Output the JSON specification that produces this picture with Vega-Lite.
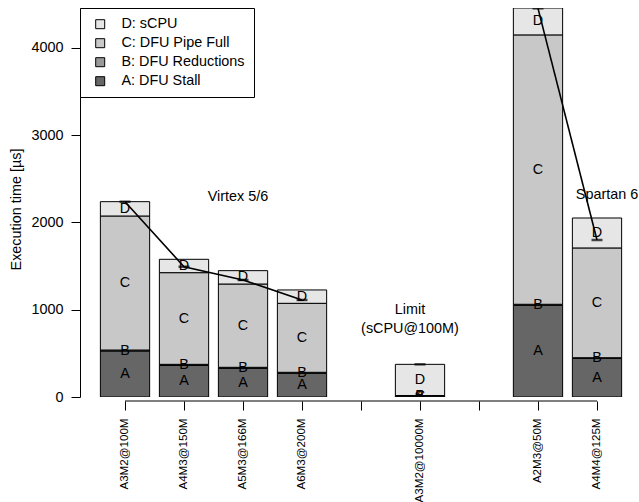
{
  "$schema": "https://vega.github.io/schema/vega-lite/v6.json",
  "width": 550,
  "height": 389,
  "autosize": {"type": "none"},
  "padding": {"left": 80, "top": 8, "right": 9, "bottom": 105},
  "config": {
    "view": {"stroke": null},
    "font": "Liberation Sans",
    "axis": {"labelFont": "Liberation Sans", "titleFont": "Liberation Sans", "labelColor": "black", "titleColor": "black", "tickColor": "black", "domainColor": "black", "grid": false},
    "legend": {"labelFont": "Liberation Sans"}
  },
  "datasets": {
    "bars": [
      {"bar": "A3M2@100M", "seg": "A", "label": "A: DFU Stall", "value": 527},
      {"bar": "A3M2@100M", "seg": "B", "label": "B: DFU Reductions", "value": 11},
      {"bar": "A3M2@100M", "seg": "C", "label": "C: DFU Pipe Full", "value": 1535},
      {"bar": "A3M2@100M", "seg": "D", "label": "D: sCPU", "value": 164},
      {"bar": "A4M3@150M", "seg": "A", "label": "A: DFU Stall", "value": 361},
      {"bar": "A4M3@150M", "seg": "B", "label": "B: DFU Reductions", "value": 13},
      {"bar": "A4M3@150M", "seg": "C", "label": "C: DFU Pipe Full", "value": 1050},
      {"bar": "A4M3@150M", "seg": "D", "label": "D: sCPU", "value": 153},
      {"bar": "A5M3@166M", "seg": "A", "label": "A: DFU Stall", "value": 328},
      {"bar": "A5M3@166M", "seg": "B", "label": "B: DFU Reductions", "value": 12},
      {"bar": "A5M3@166M", "seg": "C", "label": "C: DFU Pipe Full", "value": 954},
      {"bar": "A5M3@166M", "seg": "D", "label": "D: sCPU", "value": 153},
      {"bar": "A6M3@200M", "seg": "A", "label": "A: DFU Stall", "value": 271},
      {"bar": "A6M3@200M", "seg": "B", "label": "B: DFU Reductions", "value": 12},
      {"bar": "A6M3@200M", "seg": "C", "label": "C: DFU Pipe Full", "value": 790},
      {"bar": "A6M3@200M", "seg": "D", "label": "D: sCPU", "value": 153},
      {"bar": "A3M2@10000M", "seg": "A", "label": "A: DFU Stall", "value": 12},
      {"bar": "A3M2@10000M", "seg": "B", "label": "B: DFU Reductions", "value": 3},
      {"bar": "A3M2@10000M", "seg": "C", "label": "C: DFU Pipe Full", "value": 2},
      {"bar": "A3M2@10000M", "seg": "D", "label": "D: sCPU", "value": 357},
      {"bar": "A2M3@50M", "seg": "A", "label": "A: DFU Stall", "value": 1050},
      {"bar": "A2M3@50M", "seg": "B", "label": "B: DFU Reductions", "value": 12},
      {"bar": "A2M3@50M", "seg": "C", "label": "C: DFU Pipe Full", "value": 3085},
      {"bar": "A2M3@50M", "seg": "D", "label": "D: sCPU", "value": 308},
      {"bar": "A4M4@125M", "seg": "A", "label": "A: DFU Stall", "value": 443},
      {"bar": "A4M4@125M", "seg": "B", "label": "B: DFU Reductions", "value": 7},
      {"bar": "A4M4@125M", "seg": "C", "label": "C: DFU Pipe Full", "value": 1257},
      {"bar": "A4M4@125M", "seg": "D", "label": "D: sCPU", "value": 343}
    ],
    "line": [
      {"bar": "A3M2@100M", "value": 2236, "grp": "Virtex"},
      {"bar": "A4M3@150M", "value": 1492, "grp": "Virtex"},
      {"bar": "A5M3@166M", "value": 1340, "grp": "Virtex"},
      {"bar": "A6M3@200M", "value": 1111, "grp": "Virtex"},
      {"bar": "A3M2@10000M", "value": 374, "grp": "Limit"},
      {"bar": "A2M3@50M", "value": 4451, "grp": "Spartan"},
      {"bar": "A4M4@125M", "value": 1798, "grp": "Spartan"}
    ],
    "noteV": [{"bar": "A5M3@166M", "value": 2291, "text": "Virtex 5/6"}],
    "noteL": [
      {"bar": "A3M2@10000M", "value": 997, "text": "Limit"},
      {"bar": "A3M2@10000M", "value": 779, "text": "(sCPU@100M)"}
    ],
    "noteS": [{"bar": "A4M4@125M", "value": 2314, "text": "Spartan 6"}],
    "baseline": [{"from": "A3M2@100M", "to": "A4M4@125M", "value": 0}]
  },
  "layer": [
    {
      "data": {"name": "bars"},
      "transform": [
        {"stack": "value", "groupby": ["bar"], "sort": [{"field": "seg", "order": "ascending"}], "as": ["v0", "v1"]}
      ],
      "mark": {"type": "bar", "stroke": "black", "strokeWidth": 1, "clip": true},
      "encoding": {
        "x": {
          "field": "bar", "type": "nominal", "title": null,
          "scale": {"domain": ["A3M2@100M", "A4M3@150M", "A5M3@166M", "A6M3@200M", "gapA", "A3M2@10000M", "gapB", "A2M3@50M", "A4M4@125M"], "paddingInner": 0.165, "paddingOuter": 0.2436, "align": 0.709},
          "axis": {"domain": false, "ticks": true, "tickSize": 9, "offset": 4, "labelAngle": -90, "labelFontSize": 11.6, "labelPadding": 8, "labelExpr": "indexof(['gapA','gapB'], datum.value) >= 0 ? '' : datum.value"}
        },
        "y": {
          "field": "v0", "type": "quantitative", "title": "Execution time [µs]",
          "scale": {"domain": [0, 4455], "nice": false},
          "axis": {"values": [0, 1000, 2000, 3000, 4000], "format": "d", "tickSize": 9, "labelPadding": 8, "labelFontSize": 14.4, "titleFontSize": 14.4, "titleFontWeight": "normal", "titleX": -59.5, "titleY": 201, "titleBaseline": "alphabetic", "titleAlign": "center"}
        },
        "y2": {"field": "v1"},
        "color": {
          "field": "label", "type": "nominal",
          "scale": {"domain": ["D: sCPU", "C: DFU Pipe Full", "B: DFU Reductions", "A: DFU Stall"], "range": ["#e6e6e6", "#c8c8c8", "#999999", "#666666"]},
          "legend": {"orient": "top-left", "offset": 0, "title": null, "strokeColor": "black", "fillColor": "white", "padding": 9, "symbolType": "square", "symbolSize": 81, "symbolStrokeColor": "black", "symbolStrokeWidth": 1, "labelFontSize": 14.4, "labelColor": "black", "rowPadding": 4, "labelOffset": 14, "symbolOffset": 4}
        }
      }
    },
    {
      "data": {"name": "bars"},
      "transform": [
        {"stack": "value", "groupby": ["bar"], "sort": [{"field": "seg", "order": "ascending"}], "as": ["v0", "v1"]},
        {"calculate": "(datum.v0 + datum.v1) / 2", "as": "mid"}
      ],
      "mark": {"type": "text", "fontSize": 14.4, "color": "black", "baseline": "middle", "clip": true},
      "encoding": {
        "x": {"field": "bar", "type": "nominal"},
        "y": {"field": "mid", "type": "quantitative"},
        "text": {"field": "seg"}
      }
    },
    {
      "data": {"name": "line"},
      "mark": {"type": "line", "color": "black", "strokeWidth": 1.6, "clip": true},
      "encoding": {
        "x": {"field": "bar", "type": "nominal"},
        "y": {"field": "value", "type": "quantitative"},
        "detail": {"field": "grp"}
      }
    },
    {
      "data": {"name": "line"},
      "mark": {"type": "tick", "color": "black", "size": 11, "thickness": 2.5, "clip": true},
      "encoding": {
        "x": {"field": "bar", "type": "nominal"},
        "y": {"field": "value", "type": "quantitative"}
      }
    },
    {
      "data": {"name": "baseline"},
      "mark": {"type": "rule", "color": "black", "strokeWidth": 1, "yOffset": 4},
      "encoding": {
        "x": {"field": "from", "type": "nominal"},
        "x2": {"field": "to"},
        "y": {"field": "value", "type": "quantitative"}
      }
    },
    {
      "data": {"name": "noteV"},
      "mark": {"type": "text", "fontSize": 14.4, "color": "black", "baseline": "middle", "dx": -5},
      "encoding": {
        "x": {"field": "bar", "type": "nominal"},
        "y": {"field": "value", "type": "quantitative"},
        "text": {"field": "text"}
      }
    },
    {
      "data": {"name": "noteL"},
      "mark": {"type": "text", "fontSize": 14.4, "color": "black", "baseline": "middle", "dx": -10},
      "encoding": {
        "x": {"field": "bar", "type": "nominal"},
        "y": {"field": "value", "type": "quantitative"},
        "text": {"field": "text"}
      }
    },
    {
      "data": {"name": "noteS"},
      "mark": {"type": "text", "fontSize": 14.4, "color": "black", "baseline": "middle", "dx": 10},
      "encoding": {
        "x": {"field": "bar", "type": "nominal"},
        "y": {"field": "value", "type": "quantitative"},
        "text": {"field": "text"}
      }
    }
  ]
}
